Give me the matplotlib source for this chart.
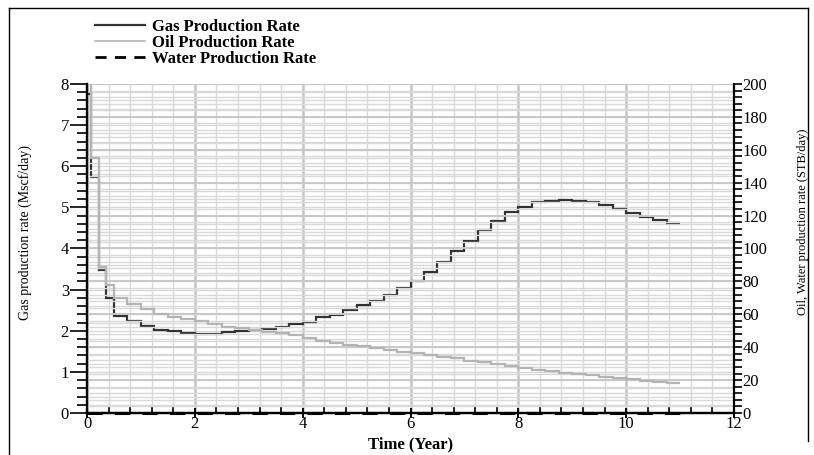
"""Gas / oil / water production rate history, step plot with twin y axes."""
import matplotlib

matplotlib.use("Agg")
import matplotlib.pyplot as plt  # noqa: E402
from matplotlib.lines import Line2D  # noqa: E402
from matplotlib.ticker import MultipleLocator  # noqa: E402

plt.rcParams["font.family"] = ["Liberation Serif", "DejaVu Serif"]

# time step edges (years)
edges = [0.0, 0.08, 0.23, 0.36, 0.5, 0.75, 1.0, 1.25, 1.5, 1.75, 2.0, 2.25,
         2.5, 2.75, 3.0, 3.25, 3.5, 3.75, 4.0, 4.25, 4.5, 4.75, 5.0, 5.25,
         5.5, 5.75, 6.0, 6.25, 6.5, 6.75, 7.0, 7.25, 7.5, 7.75, 8.0, 8.25,
         8.5, 8.75, 9.0, 9.25, 9.5, 9.75, 10.0, 10.25, 10.5, 10.75, 11.0]

# gas rate per step (Mscf/day)
gas = [7.75, 5.73, 3.47, 2.80, 2.36, 2.23, 2.12, 2.02, 1.99, 1.95, 1.92,
       1.92, 1.96, 1.99, 2.02, 2.05, 2.10, 2.16, 2.22, 2.33, 2.39, 2.50,
       2.62, 2.73, 2.87, 3.03, 3.22, 3.42, 3.67, 3.93, 4.18, 4.45, 4.68,
       4.89, 5.02, 5.13, 5.15, 5.17, 5.15, 5.13, 5.05, 4.97, 4.87, 4.77,
       4.70, 4.62]

# oil rate per step (STB/day)
oil = [210, 155, 89, 78, 70, 66, 63, 60, 58.6, 57, 55.8, 54, 52.5, 51.5,
       50.5, 49.5, 48.4, 47.4, 45.4, 43.8, 42.8, 41.5, 40.6, 39.5, 38.3,
       37.3, 36.3, 35.5, 34.2, 33.3, 31.6, 30.8, 29.6, 28.6, 27.6, 26.2,
       25.4, 24.5, 23.9, 23.1, 22.1, 21.3, 20.6, 19.6, 18.8, 18.2]

# water rate (STB/day)
water_t = [0.0, 11.0]
water = [0.0, 0.0]

GAS_C = "#333333"
OIL_C = "#b4b4b4"
GRID_C = "#d9d9d9"

fig = plt.figure(figsize=(8.14, 4.55), dpi=100)
ax = fig.add_axes([0.1069, 0.0923, 0.7948, 0.7231])
ax2 = ax.twinx()

# grids
ax.set_xlim(0, 12)
ax.set_ylim(0, 8)
ax2.set_ylim(0, 200)
ax.xaxis.set_major_locator(MultipleLocator(2))
ax.xaxis.set_minor_locator(MultipleLocator(0.4))
ax.yaxis.set_major_locator(MultipleLocator(1))
ax.yaxis.set_minor_locator(MultipleLocator(0.2))
ax2.yaxis.set_major_locator(MultipleLocator(20))
ax2.yaxis.set_minor_locator(MultipleLocator(4))

ax.grid(which="minor", axis="x", color=GRID_C, lw=1.0)
ax.grid(which="major", axis="x", color="#c4c4c4", lw=1.8)
ax.grid(which="minor", axis="y", color=GRID_C, lw=1.0)
ax.grid(which="major", axis="y", color=GRID_C, lw=1.0)
ax2.grid(which="minor", axis="y", color=GRID_C, lw=1.0)
ax2.grid(which="major", axis="y", color="#c8c8c8", lw=1.4)
ax.set_axisbelow(True)
ax2.set_axisbelow(True)

# series
ax.stairs(gas, edges, baseline=None, color=GAS_C, lw=1.6, zorder=4)
ax2.stairs(oil, edges, baseline=None, color=OIL_C, lw=1.6, zorder=3)
ax2.plot(water_t, water, color="black", lw=2.2, ls=(0, (5, 4)),
         clip_on=False, zorder=5)

# spines and ticks
for a in (ax, ax2):
    a.spines["top"].set_visible(False)
    for s in ("left", "right", "bottom"):
        a.spines[s].set_linewidth(1.6)
ax.spines["right"].set_visible(False)

ax.tick_params(axis="x", which="major", direction="inout", length=7, width=1.4,
               labelsize=12, pad=-1)
ax.tick_params(axis="x", which="minor", direction="in", length=5, width=1.2)
ax.tick_params(axis="y", which="major", direction="out", length=12, width=1.2,
               labelsize=12, pad=1)
ax.tick_params(axis="y", which="minor", direction="out", length=7, width=1.2)
ax2.tick_params(axis="y", which="major", direction="out", length=6, width=1.2,
                labelsize=12, pad=0)
ax2.tick_params(axis="y", which="minor", direction="out", length=6, width=1.2)

ax.set_xlabel("Time (Year)", fontsize=12, fontweight="bold")
ax.xaxis.set_label_coords(0.5, -0.072)
ax.set_ylabel("Gas production rate (Mscf/day)", fontsize=10)
ax.yaxis.set_label_coords(-0.085, 0.55)
ax2.set_ylabel("Oil, Water production rate (STB/day)", fontsize=9)
ax2.yaxis.set_label_coords(1.097, 0.58)

# legend above the plot
handles = [
    Line2D([], [], color=GAS_C, lw=1.6),
    Line2D([], [], color=OIL_C, lw=1.2),
    Line2D([], [], color="black", lw=2.0, ls=(0, (4, 3))),
]
labels = ["Gas Production Rate", "Oil Production Rate", "Water Production Rate"]
fig.legend(handles, labels, loc="upper left", bbox_to_anchor=(0.098, 0.992),
           frameon=False, handlelength=3.0, handletextpad=0.45,
           labelspacing=0.0, prop={"size": 12, "weight": "bold"})

# outer frame (left, top, right)
fig.add_artist(Line2D([0.011, 0.011], [0.0, 0.982], color="black", lw=1.0))
fig.add_artist(Line2D([0.011, 0.993], [0.982, 0.982], color="black", lw=1.0))
fig.add_artist(Line2D([0.993, 0.993], [0.03, 0.982], color="black", lw=1.0))

fig.savefig("out.png", dpi=100)
